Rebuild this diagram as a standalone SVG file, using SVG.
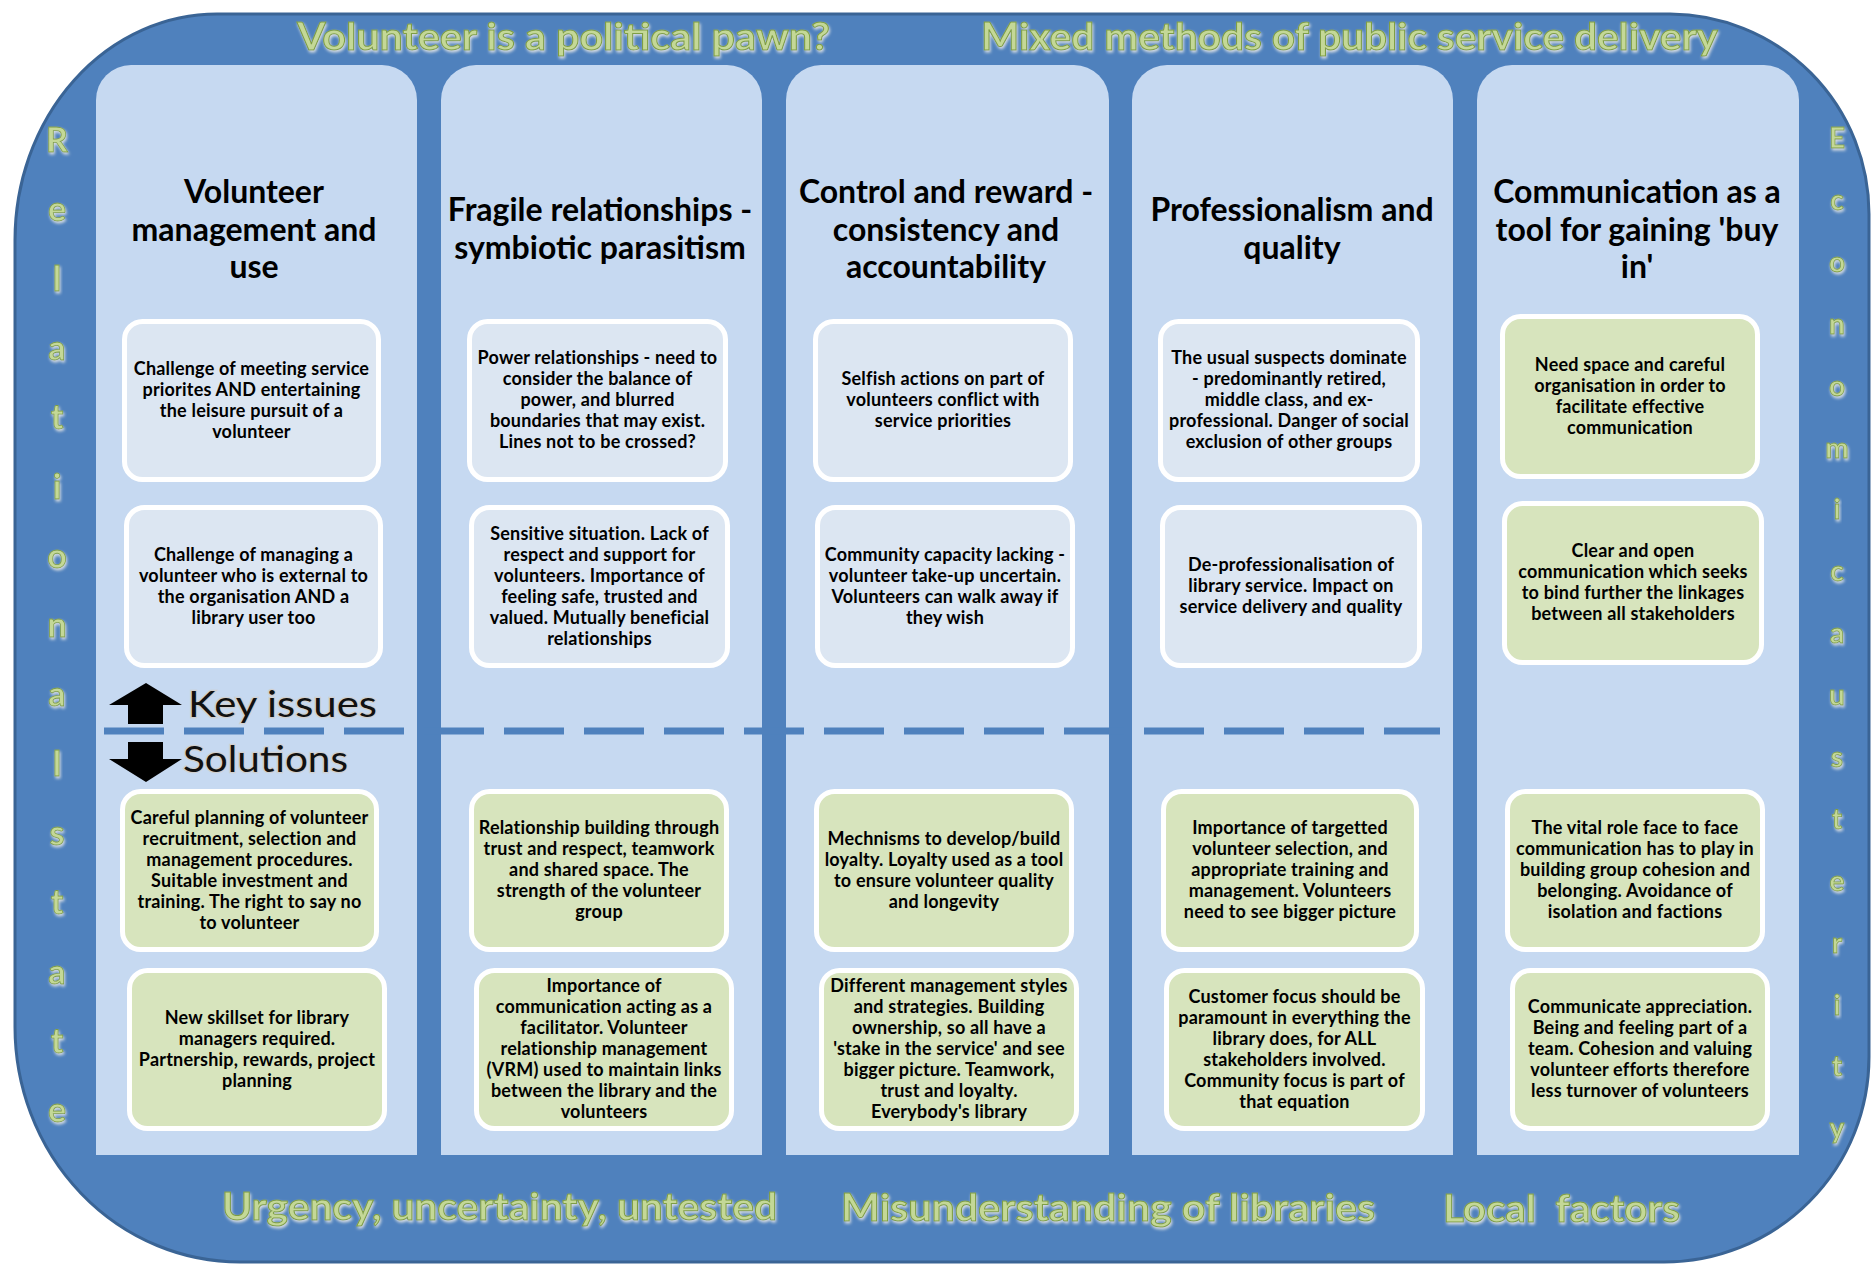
<svg xmlns="http://www.w3.org/2000/svg" width="1872" height="1264" viewBox="0 0 1872 1264">
<defs>
<style>
.frame{fill:#4F81BD;stroke:#3A6495;stroke-width:3}
.col{fill:#C6D9F1}
.iss{fill:#DCE6F2;stroke:#FFFFFF;stroke-width:5}
.sol{fill:#D7E4BD;stroke:#FFFFFF;stroke-width:5}
.bt{font-family:Lato,"Liberation Sans",sans-serif;font-weight:700;font-size:18px;text-anchor:middle;fill:#000;letter-spacing:0.2px}
.tt{font-family:Lato,"Liberation Sans",sans-serif;font-weight:700;font-size:32px;text-anchor:middle;fill:#000}
.gh{font-family:Lato,"Liberation Sans",sans-serif;font-weight:700;font-size:38px;fill:#C4D897;stroke:#7E9E45;stroke-width:1;filter:url(#glow)}
.vl{font-family:Lato,"Liberation Sans",sans-serif;font-weight:700;font-size:34px;text-anchor:middle;fill:#C4D897;stroke:#7E9E45;stroke-width:0.8;filter:url(#glow)}
.vr{font-family:Lato,"Liberation Sans",sans-serif;font-weight:700;font-size:28px;text-anchor:middle;fill:#C4D897;stroke:#7E9E45;stroke-width:0.8;filter:url(#glow)}
.ki{font-family:Lato,"Liberation Sans",sans-serif;font-weight:400;font-size:36px;fill:#111;stroke:#D0D0D0;stroke-width:2.5;paint-order:stroke}
.dash{fill:none;stroke:#4F81BD;stroke-width:7;stroke-dasharray:60 20}
</style>
<filter id="glow" x="-20%" y="-30%" width="140%" height="160%">
<feGaussianBlur in="SourceAlpha" stdDeviation="1.6"/>
<feOffset dx="1" dy="2" result="o"/>
<feFlood flood-color="#E8E8E8" flood-opacity="0.9"/>
<feComposite in2="o" operator="in" result="s"/>
<feMerge><feMergeNode in="s"/><feMergeNode in="SourceGraphic"/></feMerge>
</filter>
</defs>

<g id="frame">
<path class="frame" d="M217,14 L1670,14 A200,200 0 0 1 1869,214 L1869,1057 A205,205 0 0 1 1664,1262 L240,1262 A225,235 0 0 1 15,1027 L15,240 A202,226 0 0 1 217,14 Z"/>
<text class="gh" x="297" y="50" textLength="533" lengthAdjust="spacingAndGlyphs">Volunteer is a political pawn?</text>
<text class="gh" x="981" y="50" textLength="737" lengthAdjust="spacingAndGlyphs">Mixed methods of public service delivery</text>
<text class="gh" x="222" y="1220" textLength="555" lengthAdjust="spacingAndGlyphs">Urgency, uncertainty, untested</text>
<text class="gh" x="841" y="1221" textLength="534" lengthAdjust="spacingAndGlyphs">Misunderstanding of libraries</text>
<text class="gh" x="1443" y="1222" textLength="237" lengthAdjust="spacingAndGlyphs" xml:space="preserve">Local  factors</text>
</g>

<g id="side-left">
<text class="vl" x="57" y="152">R</text>
<text class="vl" x="57" y="221">e</text>
<text class="vl" x="57" y="291">l</text>
<text class="vl" x="57" y="360">a</text>
<text class="vl" x="57" y="429">t</text>
<text class="vl" x="57" y="499">i</text>
<text class="vl" x="57" y="568">o</text>
<text class="vl" x="57" y="637">n</text>
<text class="vl" x="57" y="706">a</text>
<text class="vl" x="57" y="776">l</text>
<text class="vl" x="57" y="845">s</text>
<text class="vl" x="57" y="914">t</text>
<text class="vl" x="57" y="984">a</text>
<text class="vl" x="57" y="1053">t</text>
<text class="vl" x="57" y="1122">e</text>
</g>

<g id="side-right">
<text class="vr" x="1837" y="148">E</text>
<text class="vr" x="1837" y="210">c</text>
<text class="vr" x="1837" y="272">o</text>
<text class="vr" x="1837" y="334">n</text>
<text class="vr" x="1837" y="396">o</text>
<text class="vr" x="1837" y="458">m</text>
<text class="vr" x="1837" y="519">i</text>
<text class="vr" x="1837" y="581">c</text>
<text class="vr" x="1837" y="643">a</text>
<text class="vr" x="1837" y="705">u</text>
<text class="vr" x="1837" y="767">s</text>
<text class="vr" x="1837" y="829">t</text>
<text class="vr" x="1837" y="891">e</text>
<text class="vr" x="1837" y="953">r</text>
<text class="vr" x="1837" y="1015">i</text>
<text class="vr" x="1837" y="1076">t</text>
<text class="vr" x="1837" y="1138">y</text>
</g>

<g id="columns">
<path id="col1" class="col" d="M96,1155 L96,100 A35,35 0 0 1 131,65 L382,65 A35,35 0 0 1 417,100 L417,1155 Z"/>
<path id="col2" class="col" d="M441,1155 L441,100 A35,35 0 0 1 476,65 L727,65 A35,35 0 0 1 762,100 L762,1155 Z"/>
<path id="col3" class="col" d="M786,1155 L786,100 A35,35 0 0 1 821,65 L1074,65 A35,35 0 0 1 1109,100 L1109,1155 Z"/>
<path id="col4" class="col" d="M1132,1155 L1132,100 A35,35 0 0 1 1167,65 L1418,65 A35,35 0 0 1 1453,100 L1453,1155 Z"/>
<path id="col5" class="col" d="M1477,1155 L1477,100 A35,35 0 0 1 1512,65 L1764,65 A35,35 0 0 1 1799,100 L1799,1155 Z"/>
</g>

<g id="titles">
<text id="title1" class="tt" x="254" y="203">Volunteer<tspan x="254" dy="37.5">management and</tspan><tspan x="254" dy="37.5">use</tspan></text>
<text id="title2" class="tt" x="600" y="221">Fragile relationships -<tspan x="600" dy="37.5">symbiotic parasitism</tspan></text>
<text id="title3" class="tt" x="946" y="203">Control and reward -<tspan x="946" dy="37.5">consistency and</tspan><tspan x="946" dy="37.5">accountability</tspan></text>
<text id="title4" class="tt" x="1292" y="221">Professionalism and<tspan x="1292" dy="37.5">quality</tspan></text>
<text id="title5" class="tt" x="1637" y="203">Communication as a<tspan x="1637" dy="37.5">tool for gaining 'buy</tspan><tspan x="1637" dy="37.5">in'</tspan></text>
</g>

<g id="connectors">
<line class="dash" x1="104" y1="731" x2="1440" y2="731"/>
<path id="arrow-up" d="M146,683 L182,705 L163,705 L163,724 L128,724 L128,705 L109,705 Z" fill="#000"/>
<path id="arrow-down" d="M128,742 L163,742 L163,759 L182,759 L146,782 L109,759 L128,759 Z" fill="#000"/>
<text class="ki" x="188" y="717" textLength="189" lengthAdjust="spacingAndGlyphs">Key issues</text>
<text class="ki" x="183" y="772" textLength="165" lengthAdjust="spacingAndGlyphs">Solutions</text>
</g>

<g id="c1r1"><rect class="iss" x="124.5" y="321.5" width="254" height="158" rx="18"/>
<text class="bt" x="251.5" y="374.5">Challenge of meeting service<tspan x="251.5" dy="21">priorites AND entertaining</tspan><tspan x="251.5" dy="21">the leisure pursuit of a</tspan><tspan x="251.5" dy="21">volunteer</tspan></text></g>
<g id="c1r2"><rect class="iss" x="126.5" y="507.5" width="254" height="158" rx="18"/>
<text class="bt" x="253.5" y="560.5">Challenge of managing a<tspan x="253.5" dy="21">volunteer who is external to</tspan><tspan x="253.5" dy="21">the organisation AND a</tspan><tspan x="253.5" dy="21">library user too</tspan></text></g>
<g id="c1r3"><rect class="sol" x="122.5" y="791.5" width="254" height="158" rx="18"/>
<text class="bt" x="249.5" y="823.5">Careful planning of volunteer<tspan x="249.5" dy="21">recruitment, selection and</tspan><tspan x="249.5" dy="21">management procedures.</tspan><tspan x="249.5" dy="21">Suitable investment and</tspan><tspan x="249.5" dy="21">training.  The right to say no</tspan><tspan x="249.5" dy="21">to volunteer</tspan></text></g>
<g id="c1r4"><rect class="sol" x="129.5" y="970.5" width="255" height="158" rx="18"/>
<text class="bt" x="257" y="1023.5">New skillset for library<tspan x="257" dy="21">managers required.</tspan><tspan x="257" dy="21">Partnership, rewards, project</tspan><tspan x="257" dy="21">planning</tspan></text></g>

<g id="c2r1"><rect class="iss" x="469.5" y="321.5" width="256" height="158" rx="18"/>
<text class="bt" x="597.5" y="364">Power relationships - need to<tspan x="597.5" dy="21">consider the balance of</tspan><tspan x="597.5" dy="21">power, and blurred</tspan><tspan x="597.5" dy="21">boundaries that may exist.</tspan><tspan x="597.5" dy="21">Lines not to be crossed?</tspan></text></g>
<g id="c2r2"><rect class="iss" x="471.5" y="507.5" width="256" height="158" rx="18"/>
<text class="bt" x="599.5" y="539.5">Sensitive situation.  Lack of<tspan x="599.5" dy="21">respect and support for</tspan><tspan x="599.5" dy="21">volunteers.  Importance of</tspan><tspan x="599.5" dy="21">feeling safe, trusted and</tspan><tspan x="599.5" dy="21">valued.  Mutually beneficial</tspan><tspan x="599.5" dy="21">relationships</tspan></text></g>
<g id="c2r3"><rect class="sol" x="471.5" y="791.5" width="255" height="158" rx="18"/>
<text class="bt" x="599" y="834">Relationship building through<tspan x="599" dy="21">trust and respect, teamwork</tspan><tspan x="599" dy="21">and shared space.  The</tspan><tspan x="599" dy="21">strength of the volunteer</tspan><tspan x="599" dy="21">group</tspan></text></g>
<g id="c2r4"><rect class="sol" x="476.5" y="970.5" width="255" height="158" rx="18"/>
<text class="bt" x="604" y="992">Importance of<tspan x="604" dy="21">communication acting as a</tspan><tspan x="604" dy="21">facilitator. Volunteer</tspan><tspan x="604" dy="21">relationship management</tspan><tspan x="604" dy="21">(VRM) used to maintain links</tspan><tspan x="604" dy="21">between the library and the</tspan><tspan x="604" dy="21">volunteers</tspan></text></g>

<g id="c3r1"><rect class="iss" x="815.5" y="321.5" width="255" height="158" rx="18"/>
<text class="bt" x="943" y="385">Selfish actions on part of<tspan x="943" dy="21">volunteers conflict with</tspan><tspan x="943" dy="21">service priorities</tspan></text></g>
<g id="c3r2"><rect class="iss" x="817.5" y="507.5" width="255" height="158" rx="18"/>
<text class="bt" x="945" y="560.5">Community capacity lacking -<tspan x="945" dy="21">volunteer take-up uncertain.</tspan><tspan x="945" dy="21">Volunteers can walk away if</tspan><tspan x="945" dy="21">they wish</tspan></text></g>
<g id="c3r3"><rect class="sol" x="816.5" y="791.5" width="255" height="158" rx="18"/>
<text class="bt" x="944" y="844.5">Mechnisms to develop/build<tspan x="944" dy="21">loyalty.  Loyalty used as a tool</tspan><tspan x="944" dy="21">to ensure volunteer quality</tspan><tspan x="944" dy="21">and longevity</tspan></text></g>
<g id="c3r4"><rect class="sol" x="821.5" y="970.5" width="255" height="158" rx="18"/>
<text class="bt" x="949" y="992">Different management styles<tspan x="949" dy="21">and strategies.  Building</tspan><tspan x="949" dy="21">ownership, so all have a</tspan><tspan x="949" dy="21">'stake in the service' and see</tspan><tspan x="949" dy="21">bigger picture. Teamwork,</tspan><tspan x="949" dy="21">trust and loyalty.</tspan><tspan x="949" dy="21">Everybody's library</tspan></text></g>

<g id="c4r1"><rect class="iss" x="1160.5" y="321.5" width="257" height="158" rx="18"/>
<text class="bt" x="1289" y="364">The usual suspects dominate<tspan x="1289" dy="21">- predominantly retired,</tspan><tspan x="1289" dy="21">middle class, and ex-</tspan><tspan x="1289" dy="21">professional. Danger of social</tspan><tspan x="1289" dy="21">exclusion of other groups</tspan></text></g>
<g id="c4r2"><rect class="iss" x="1162.5" y="507.5" width="257" height="158" rx="18"/>
<text class="bt" x="1291" y="571">De-professionalisation of<tspan x="1291" dy="21">library service. Impact on</tspan><tspan x="1291" dy="21">service delivery and quality</tspan></text></g>
<g id="c4r3"><rect class="sol" x="1163.5" y="791.5" width="253" height="158" rx="18"/>
<text class="bt" x="1290" y="834">Importance of targetted<tspan x="1290" dy="21">volunteer selection, and</tspan><tspan x="1290" dy="21">appropriate training and</tspan><tspan x="1290" dy="21">management. Volunteers</tspan><tspan x="1290" dy="21">need to see bigger picture</tspan></text></g>
<g id="c4r4"><rect class="sol" x="1166.5" y="970.5" width="256" height="158" rx="18"/>
<text class="bt" x="1294.5" y="1002.5">Customer focus should be<tspan x="1294.5" dy="21">paramount in everything the</tspan><tspan x="1294.5" dy="21">library does, for ALL</tspan><tspan x="1294.5" dy="21">stakeholders involved.</tspan><tspan x="1294.5" dy="21">Community focus is part of</tspan><tspan x="1294.5" dy="21">that equation</tspan></text></g>

<g id="c5r1"><rect class="sol" x="1502.5" y="316.5" width="255" height="160" rx="18"/>
<text class="bt" x="1630" y="370.5">Need space and careful<tspan x="1630" dy="21">organisation in order to</tspan><tspan x="1630" dy="21">facilitate effective</tspan><tspan x="1630" dy="21">communication</tspan></text></g>
<g id="c5r2"><rect class="sol" x="1504.5" y="503.5" width="257" height="159" rx="18"/>
<text class="bt" x="1633" y="557">Clear and open<tspan x="1633" dy="21">communication which seeks</tspan><tspan x="1633" dy="21">to bind further the linkages</tspan><tspan x="1633" dy="21">between all stakeholders</tspan></text></g>
<g id="c5r3"><rect class="sol" x="1507.5" y="791.5" width="255" height="158" rx="18"/>
<text class="bt" x="1635" y="834">The vital role face to face<tspan x="1635" dy="21">communication has to play in</tspan><tspan x="1635" dy="21">building group cohesion and</tspan><tspan x="1635" dy="21">belonging. Avoidance of</tspan><tspan x="1635" dy="21">isolation and factions</tspan></text></g>
<g id="c5r4"><rect class="sol" x="1512.5" y="970.5" width="255" height="158" rx="18"/>
<text class="bt" x="1640" y="1013">Communicate appreciation.<tspan x="1640" dy="21">Being and feeling part of a</tspan><tspan x="1640" dy="21">team.  Cohesion and valuing</tspan><tspan x="1640" dy="21">volunteer efforts therefore</tspan><tspan x="1640" dy="21">less turnover of volunteers</tspan></text></g>
</svg>
